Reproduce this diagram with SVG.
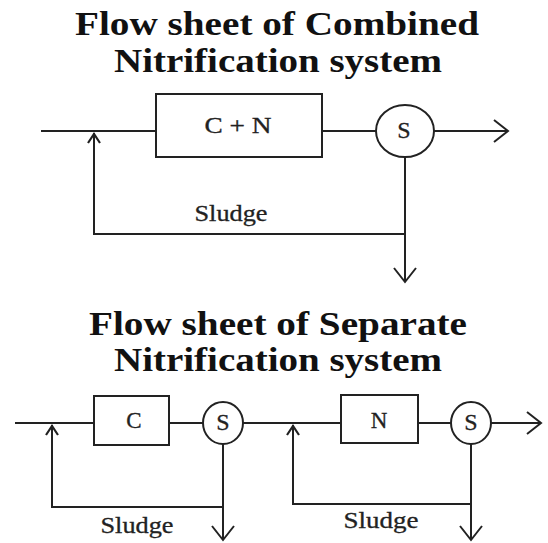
<svg xmlns="http://www.w3.org/2000/svg" width="548" height="543" viewBox="0 0 548 543">
<style>
.title{font-family:"Liberation Serif","Times New Roman",serif;font-weight:bold;font-size:33px;fill:#111;text-anchor:middle}
.lbl{font-family:"Liberation Serif","Times New Roman",serif;font-size:23px;fill:#222;stroke:#222;stroke-width:0.3;text-anchor:middle}
.s{font-size:24px}
.ln{fill:none;stroke:#222;stroke-width:2}
.box{fill:#fff;stroke:#222;stroke-width:2}
</style>
<defs>
<marker id="big" markerUnits="userSpaceOnUse" markerWidth="30" markerHeight="30" refX="15" refY="15" orient="auto">
<polyline points="1,4 15,15 1,26" fill="none" stroke="#222" stroke-width="2"/>
</marker>
<marker id="small" markerUnits="userSpaceOnUse" markerWidth="20" markerHeight="20" refX="11" refY="10" orient="auto">
<polyline points="1,4 10,10 1,16" fill="none" stroke="#222" stroke-width="2.2"/>
</marker>
</defs>
<rect width="548" height="543" fill="#fff"/>
<g id="titles">
<text class="title" x="277" y="35" textLength="404" lengthAdjust="spacingAndGlyphs">Flow sheet of Combined</text>
<text class="title" x="278" y="72" textLength="328" lengthAdjust="spacingAndGlyphs">Nitrification system</text>
<text class="title" x="278" y="335" textLength="378" lengthAdjust="spacingAndGlyphs">Flow sheet of Separate</text>
<text class="title" x="278" y="371" textLength="328" lengthAdjust="spacingAndGlyphs">Nitrification system</text>
</g>
<g id="connectors">
<line class="ln" x1="41" y1="131" x2="156" y2="131"/>
<line class="ln" x1="322" y1="131" x2="376" y2="131"/>
<line class="ln" x1="434" y1="131" x2="508" y2="131" marker-end="url(#big)"/>
<polyline class="ln" points="405,157 405,234 94,234 94,133" marker-end="url(#small)"/>
<line class="ln" x1="405" y1="234" x2="405" y2="282" marker-end="url(#big)"/>
<line class="ln" x1="15" y1="423" x2="94" y2="423"/>
<line class="ln" x1="169" y1="423" x2="203" y2="423"/>
<line class="ln" x1="243" y1="423" x2="341" y2="423"/>
<line class="ln" x1="418" y1="423" x2="451" y2="423"/>
<line class="ln" x1="491" y1="423" x2="541" y2="423" marker-end="url(#big)"/>
<polyline class="ln" points="223,444 223,507 52,507 52,425" marker-end="url(#small)"/>
<line class="ln" x1="223" y1="507" x2="223" y2="540" marker-end="url(#big)"/>
<polyline class="ln" points="471,444 471,504 293,504 293,425" marker-end="url(#small)"/>
<line class="ln" x1="471" y1="504" x2="471" y2="540" marker-end="url(#big)"/>
</g>
<g id="cn">
<rect class="box" x="156" y="94" width="166" height="63"/>
<text class="lbl" x="238" y="133" textLength="67" lengthAdjust="spacingAndGlyphs">C + N</text>
</g>
<g id="s0">
<ellipse class="box" cx="405" cy="131" rx="29" ry="26"/>
<text class="lbl s" x="404" y="138">S</text>
</g>
<g id="c">
<rect class="box" x="94" y="396" width="75" height="49"/>
<text class="lbl" x="134" y="428">C</text>
</g>
<g id="s1">
<ellipse class="box" cx="223" cy="423" rx="20" ry="21"/>
<text class="lbl s" x="223" y="430">S</text>
</g>
<g id="n">
<rect class="box" x="341" y="395" width="77" height="48"/>
<text class="lbl" x="379" y="428">N</text>
</g>
<g id="s2">
<ellipse class="box" cx="471" cy="423" rx="20" ry="21"/>
<text class="lbl s" x="471" y="430">S</text>
</g>
<g id="labels">
<text class="lbl" x="231" y="221" textLength="73" lengthAdjust="spacingAndGlyphs">Sludge</text>
<text class="lbl" x="137" y="533" textLength="73" lengthAdjust="spacingAndGlyphs">Sludge</text>
<text class="lbl" x="381" y="528" textLength="75" lengthAdjust="spacingAndGlyphs">Sludge</text>
</g>
</svg>
